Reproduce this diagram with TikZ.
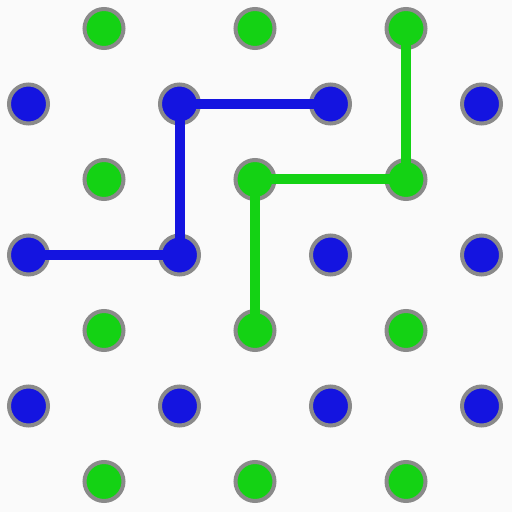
\documentclass[tikz,border=0pt]{standalone}
\usepackage{tikz}
\definecolor{board}{HTML}{FAFAFA}
\definecolor{rim}{HTML}{8A8A8A}
\definecolor{blueside}{HTML}{1414E0}
\definecolor{greenside}{HTML}{14D214}

\begin{document}
\begin{tikzpicture}[
  x=0.5pt, y=-0.5pt,
  dot/.style={circle, draw=rim, line width=2pt, inner sep=0pt,
              minimum size=19.5pt},
  bdot/.style={dot, fill=blueside},
  gdot/.style={dot, fill=greenside},
  blink/.style={blueside, line width=5pt},
  glink/.style={greenside, line width=5pt},
]
  \fill[board] (0,0) rectangle (512,512);

  % blue posts
  \foreach \i in {0,...,3}
    \foreach \j in {0,1,2}
      \node[bdot] (b\i-\j) at ({28.5+151*\i},{104+151*\j}) {};
  % green posts
  \foreach \i in {0,1,2}
    \foreach \j in {0,...,3}
      \node[gdot] (g\i-\j) at ({104+151*\i},{28.5+151*\j}) {};

  % blue bridges
  \draw[blink] (b1-0.center) -- (b2-0.center);
  \draw[blink] (b1-0.center) -- (b1-1.center);
  \draw[blink] (b0-1.center) -- (b1-1.center);

  % green bridges
  \draw[glink] (g2-0.center) -- (g2-1.center);
  \draw[glink] (g1-1.center) -- (g2-1.center);
  \draw[glink] (g1-1.center) -- (g1-2.center);
\end{tikzpicture}
\end{document}
